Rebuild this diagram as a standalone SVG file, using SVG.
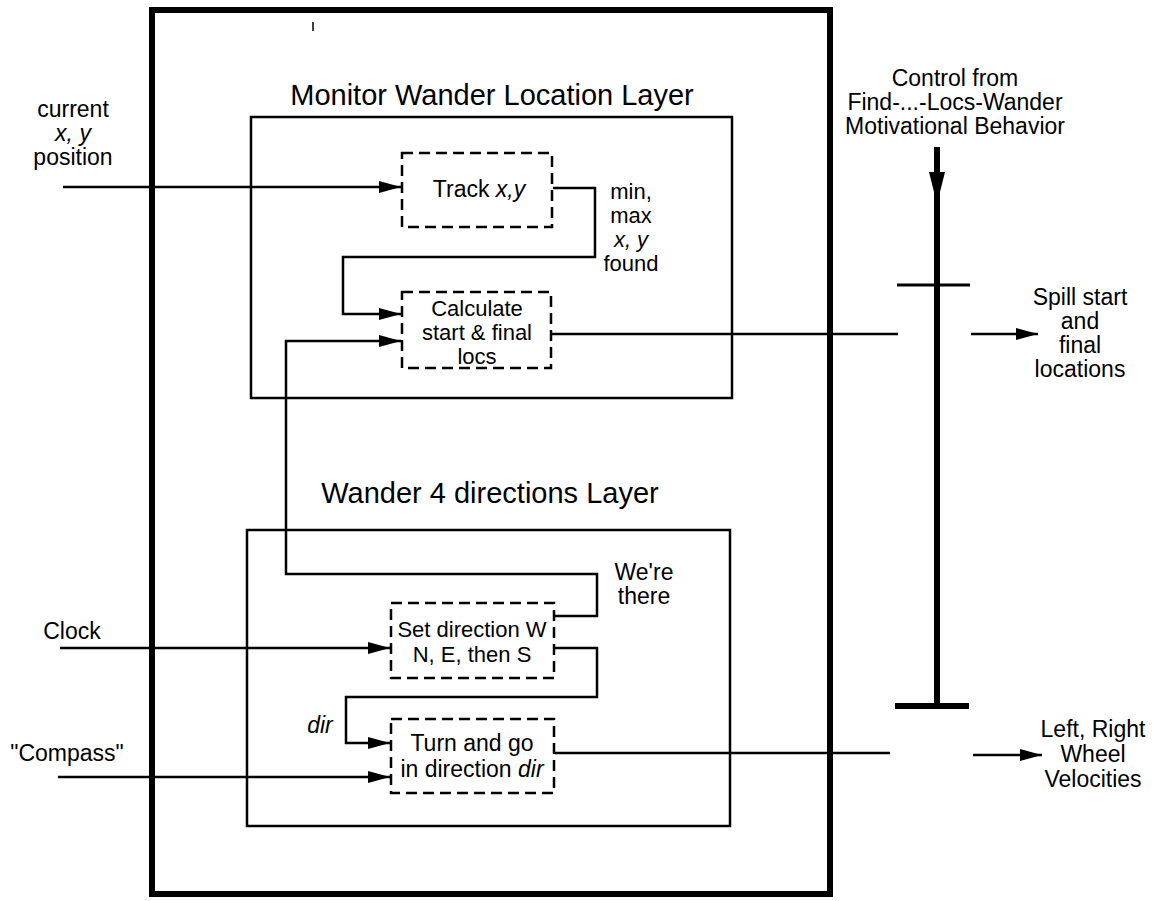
<svg xmlns="http://www.w3.org/2000/svg" width="1155" height="901" viewBox="0 0 1155 901">
<defs>
<marker id="ah" markerUnits="userSpaceOnUse" markerWidth="24" markerHeight="14" refX="22" refY="7" orient="auto">
<path d="M0,1 L22,7 L0,13 Z" fill="#000"/>
</marker>
<style>
text{font-family:"Liberation Sans",Arial,sans-serif;fill:#000;text-anchor:middle}
.lbl{font-size:23px}
.sm{font-size:22px}
.ttl{font-size:29px}
.box{fill:none;stroke:#000;stroke-width:2.5}
.dash{fill:none;stroke:#000;stroke-width:2.5;stroke-dasharray:11 6}
.ln{fill:none;stroke:#000;stroke-width:2.5}
.arr{fill:none;stroke:#000;stroke-width:2.5;marker-end:url(#ah)}
</style>
</defs>
<rect width="1155" height="901" fill="#fff"/>
<g id="outer">
<rect x="152" y="10" width="678" height="884" fill="none" stroke="#000" stroke-width="6"/>
<path d="M313,22 V31" stroke="#000" stroke-width="1.5"/>
</g>
<g id="monitor-layer">
<rect class="box" x="251" y="117" width="481" height="281"/>
<text class="ttl" x="492" y="105">Monitor Wander Location Layer</text>
</g>
<g id="track">
<rect class="dash" x="402" y="153" width="150" height="74"/>
<text class="lbl" x="479" y="197">Track <tspan font-style="italic">x,y</tspan></text>
</g>
<g id="calculate">
<rect class="dash" x="402" y="292" width="149" height="76"/>
<text class="sm" x="477" y="316">Calculate</text>
<text class="sm" x="477" y="340">start &amp; final</text>
<text class="sm" x="477" y="364">locs</text>
</g>
<g id="wander-layer">
<rect class="box" x="247" y="530" width="483" height="296"/>
<text class="ttl" x="490" y="503">Wander 4 directions Layer</text>
</g>
<g id="setdir">
<rect class="dash" x="391" y="603" width="163" height="75"/>
<text class="sm" x="472" y="637">Set direction W</text>
<text class="sm" x="472" y="662">N, E, then S</text>
</g>
<g id="turn">
<rect class="dash" x="391" y="719" width="163" height="74"/>
<text class="lbl" x="472" y="751">Turn and go</text>
<text class="lbl" x="472" y="777">in direction <tspan font-style="italic">dir</tspan></text>
</g>
<g id="labels">
<text class="lbl" x="73" y="117">current</text>
<text class="lbl" x="73" y="141" font-style="italic">x, y</text>
<text class="lbl" x="73" y="165">position</text>
<text class="sm" x="631" y="199">min,</text>
<text class="sm" x="631" y="223">max</text>
<text class="sm" x="631" y="247" font-style="italic">x, y</text>
<text class="sm" x="631" y="271">found</text>
<text class="lbl" x="644" y="580">We're</text>
<text class="lbl" x="644" y="604">there</text>
<text class="lbl" x="72" y="639">Clock</text>
<text class="lbl" x="67" y="761">"Compass"</text>
<text class="lbl" x="320" y="733" font-style="italic">dir</text>
<text class="lbl" x="955" y="86">Control from</text>
<text class="lbl" x="955" y="110">Find-...-Locs-Wander</text>
<text class="lbl" x="955" y="134">Motivational Behavior</text>
<text class="lbl" x="1080" y="305">Spill start</text>
<text class="lbl" x="1080" y="329">and</text>
<text class="lbl" x="1080" y="353">final</text>
<text class="lbl" x="1080" y="377">locations</text>
<text class="lbl" x="1093" y="737">Left, Right</text>
<text class="lbl" x="1093" y="762">Wheel</text>
<text class="lbl" x="1093" y="787">Velocities</text>
</g>
<g id="connectors">
<path class="arr" d="M63,187 H401"/>
<path class="arr" d="M553,188 H595 V257 H343 V314 H401"/>
<path class="arr" d="M555,616 H597 V574 H286 V341 H401"/>
<path class="ln" d="M552,334 H898"/>
<path class="arr" d="M971,334 H1038"/>
<path class="arr" d="M60,648 H390"/>
<path class="arr" d="M58,777 H390"/>
<path class="arr" d="M555,648 H597 V697 H346 V743 H390"/>
<path class="ln" d="M555,753 H890"/>
<path class="arr" d="M973,755 H1042"/>
<path d="M937,147 V706" fill="none" stroke="#000" stroke-width="6"/>
<path d="M929,172 L937,204 L945,172 Z" fill="#000"/>
<path d="M897,285 H970" fill="none" stroke="#000" stroke-width="3"/>
<path d="M895,706 H969" fill="none" stroke="#000" stroke-width="6"/>
</g>
</svg>
